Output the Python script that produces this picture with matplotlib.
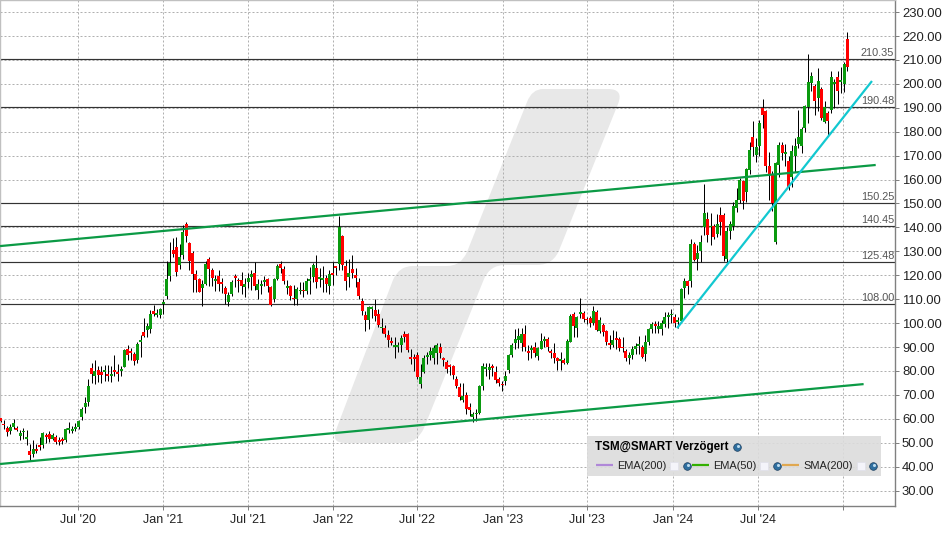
import matplotlib
matplotlib.use('Agg')
import matplotlib.pyplot as plt
import matplotlib.dates as mdates
import numpy as np
import pandas as pd
from matplotlib.patches import PathPatch, Rectangle
from matplotlib.path import Path
from matplotlib.transforms import Affine2D

plt.rcParams['font.family'] = ['Liberation Sans', 'DejaVu Sans']

# weekly candles
first_week = '2020-01-17'
opens = [
    60.2, 58, 56, 54.7, 56.7, 56.2, 53, 54.3, 51.5, 46.5,
    45.1, 47.2, 48.9, 48.9, 53.2, 53.5, 51.7, 52.5, 51.1, 51.4,
    51, 55.3, 54.8, 55.8, 56.5, 60.7, 65, 66.9, 81.4, 78,
    80.6, 79.7, 79.7, 78.9, 78, 80.6, 79.7, 80, 81.8, 89,
    88.3, 87, 84.6, 92.1, 96.2, 97.1, 97.6, 105, 103.4, 103.4,
    107.9, 111.2, 119.7, 130.5, 131.8, 124.2, 128.4, 141.3, 133.5, 129.3,
    120.7, 118.3, 114.7, 116.2, 126.7, 122.1, 117.5, 119.7, 117.2, 114.7,
    108.9, 112, 119.7, 118.2, 118.2, 115, 117, 119.3, 120.8, 113.7,
    115.5, 117, 118.3, 115, 110, 118.6, 124.6, 122.5, 114.7, 115.4,
    110.7, 110, 113.4, 114, 113.3, 117.5, 119.2, 123.2, 118.3, 118,
    118.7, 115.5, 120.8, 123.8, 124.9, 136.3, 123.7, 119.2, 122.7, 119.9,
    117.3, 109.2, 103.3, 101.4, 105.9, 105.6, 103.9, 97.8, 97.9, 95.1,
    92.6, 90, 90.1, 90.9, 95.5, 95.3, 85.8, 85.8, 86.8, 74.6,
    79.6, 85.8, 86.5, 85.6, 87.7, 90.2, 85.4, 83.7, 82.3, 82.2,
    76.6, 73.4, 68, 69.9, 65, 60.7, 61.8, 62.5, 73.5, 81,
    80.5, 81.9, 79.7, 76.7, 74.6, 75.9, 80.2, 86.6, 91.6, 93,
    91.6, 95.5, 88.4, 88.9, 90.1, 86.3, 89.3, 92.6, 93.2, 88.4,
    87.6, 85.5, 84.3, 84.7, 83.4, 92.3, 103.9, 98, 103.9, 104.3,
    101.9, 102.2, 100, 104.7, 96.9, 99.3, 96.8, 91.5, 90.7, 93.9,
    93.3, 90.1, 88.3, 85.6, 86.8, 89, 90.5, 90.1, 87.2, 91.9,
    97.5, 99.7, 97.5, 97.5, 99.7, 102.5, 103.2, 102.4, 100.6, 100.7,
    114.8, 117.4, 117.4, 133.2, 126.9, 130, 140, 143.6, 140, 140.4,
    137.3, 145.3, 145.3, 126.9, 138.3, 140.7, 148.1, 151.6, 159.5, 155,
    164, 177.7, 170.3, 174, 190, 188.7, 165.8, 162.3, 134, 166.1,
    174.5, 170.6, 167.8, 161, 169.9, 174.9, 174, 181.4, 190.2, 200.5,
    199.1, 194, 197.9, 184.2, 187.7, 189.1, 200, 202.8, 200.8, 200, 218.6,
]
closes = [
    59, 57.2, 54.5, 56.4, 58.3, 55.5, 53.9, 55.1, 52.2, 44.7,
    47.2, 46.5, 48, 53.9, 52.5, 51.4, 53.1, 50.3, 50.3, 50.7,
    55.6, 56, 55.6, 56.5, 58.9, 63.9, 66.4, 73.9, 78.9, 80.1,
    78.5, 78.5, 80.6, 78, 78.9, 79.7, 78.9, 81, 88.8, 86.7,
    87.6, 84, 91.3, 93, 94.8, 98.8, 103.8, 104, 104.1, 105.9,
    109, 118.3, 125.2, 128.8, 121.3, 127.7, 138, 136.3, 125.9, 120.4,
    117.9, 113, 116.2, 124.6, 122.5, 118.7, 118.5, 116.5, 116.4, 112,
    111.6, 117.2, 118.7, 117.5, 115.4, 116.2, 118.7, 120.4, 115.4, 116.5,
    116.2, 118, 115.4, 107.5, 118.3, 123.9, 122.9, 117.4, 115.4, 111.2,
    110, 114.4, 114, 113.3, 117.5, 118.3, 124.2, 117, 119.2, 118.9,
    116.2, 120.4, 120, 122.9, 140.2, 124.2, 117.8, 120.9, 121, 119,
    111.4, 105.2, 101.4, 106.7, 106.8, 102.8, 99.2, 98.5, 95.5, 93,
    91.8, 90.9, 91, 93.9, 94.1, 88.9, 85.2, 85.2, 77.3, 77.4,
    85.6, 86.5, 88.4, 89.7, 91, 87.5, 84.7, 81, 81.5, 78.1,
    73.9, 69.1, 69.6, 64, 63.8, 62.1, 62.5, 73.8, 82.2, 81.6,
    81.5, 81.2, 76.3, 75, 74, 78, 86.6, 91, 93.5, 94.7,
    95.5, 90.2, 87.6, 89.7, 87.6, 89.4, 92.6, 93.2, 90, 87.3,
    85.5, 84.3, 85.2, 83.4, 92.6, 103.1, 98.6, 102.6, 104.7, 101.8,
    101.1, 100.1, 105.2, 97.2, 101.1, 96.1, 92, 90.8, 93, 93,
    89.5, 89.5, 85.6, 86.8, 89.3, 90.5, 91.4, 85.9, 91.9, 97.5,
    99.7, 98.6, 98.6, 100.1, 102.6, 103.2, 103.9, 100, 101.3, 114.4,
    117.4, 115.7, 133.2, 126.5, 129.4, 133.9, 146.1, 136.9, 140.5, 136.2,
    141.5, 142.2, 127.9, 138.3, 141.5, 149, 151.6, 159.9, 151.1, 164.4,
    172.4, 173.8, 173.8, 183.5, 187, 165.8, 161.9, 150, 166.8, 174.5,
    171.3, 171.4, 157, 172.1, 174, 177.7, 181.2, 190.8, 200.7, 203.3,
    193, 201.2, 185.9, 190.2, 184.5, 202.8, 200.7, 197.2, 201.6, 208.3, 207.2,
]
highs = [
    60.5, 59.7, 57, 58, 59.8, 57, 55.5, 56.2, 55.5, 49.5,
    51, 49.5, 52.5, 54.5, 54, 55, 54, 53.2, 52.5, 52.5,
    56, 58.5, 57, 58.2, 59.5, 65, 68.9, 76.7, 83.2, 84.5,
    82, 82, 82.5, 82.5, 82, 86.8, 83, 82, 89, 91,
    89.5, 88, 92, 95, 102, 100, 105.5, 107.6, 106, 106.5,
    110, 126, 133.9, 135.6, 136, 133, 141, 142.3, 134, 130,
    122, 119, 118, 126, 127.5, 123, 120, 122, 119, 115.5,
    113, 118, 120.5, 119, 121.5, 119, 121, 122, 125.5, 118.5,
    118, 119.5, 119, 115.5, 119, 124.5, 126, 124, 118, 116,
    116, 115, 117, 117, 119, 123.5, 125, 128.5, 123, 124,
    120, 122, 125.5, 124, 144.8, 137, 126.3, 127, 128.5, 123,
    119, 110.5, 105, 107, 107, 110, 106, 102, 99, 97,
    94, 94, 92, 95, 96.5, 96, 89, 87, 88, 83,
    86.5, 88, 90, 91, 91.5, 91.5, 86, 84.5, 83, 82.5,
    78, 75, 75, 71, 66.5, 63, 64, 74, 83.5, 83.5,
    83.5, 83, 82, 77.5, 76, 80, 87, 91.5, 97.5, 98,
    98, 99, 91, 91, 92, 90, 96, 94.5, 94, 89,
    91.5, 86, 88, 85.5, 93.5, 104, 104.5, 103, 110.3, 105,
    102.5, 103, 107, 105.5, 102.5, 100, 97, 95, 97, 96.5,
    94, 94, 89, 88, 90.5, 91.5, 94.5, 91, 95, 98,
    100.5, 101, 101, 101.5, 104.5, 104.5, 106, 104, 102.5, 114.5,
    119, 118, 135, 134, 132.5, 137, 158.3, 146.5, 146, 141.5,
    145.7, 148.5, 146, 140, 142.5, 150.5, 156.5, 160.5, 160, 165,
    175.6, 184.5, 177.5, 185, 193.5, 189, 171.7, 163.5, 167.5, 175.5,
    175.5, 175, 170, 174.5, 177.5, 189, 182, 191, 212.5, 205,
    200, 206.5, 198.5, 193, 188.5, 205.5, 202, 205.5, 207, 209, 221.8,
]
lows = [
    58.5, 55.6, 53, 53.5, 55.8, 54.8, 51, 51.5, 49, 42.5,
    44, 45.5, 47, 47.8, 50, 50.5, 51, 49.5, 49, 49.5,
    50.2, 54, 54, 54.8, 55.8, 59.5, 62.5, 65.5, 75, 74.5,
    75.5, 75, 76, 75.8, 75.5, 78, 76, 78, 81.5, 84.5,
    84.5, 82.5, 83.5, 86, 94.2, 94, 96, 103, 102.5, 102,
    104, 110, 117.6, 127.7, 119.5, 122.5, 127, 134, 122, 113,
    113, 113, 107, 116, 115.7, 115.5, 113.5, 113.5, 112.5, 108,
    107, 111.5, 115, 113, 112, 111, 114.5, 114, 114, 110,
    112, 115.5, 113, 107, 109, 118, 121, 116.5, 112, 109.5,
    107.5, 107.5, 112, 111, 112, 112, 117, 114.5, 115, 113,
    113, 112, 116, 120, 122, 122, 113.7, 115, 119, 115,
    110, 103.5, 96.5, 97.5, 102, 101, 98.5, 96, 94, 90,
    91, 85.5, 88, 88, 92, 88, 83, 80, 76.5, 73,
    79, 83, 84.5, 83, 83, 85.5, 82, 79, 78.5, 76.5,
    73, 68, 67, 62, 61, 58.5, 59, 62, 72, 78,
    76.5, 78, 75, 73.5, 71.5, 74, 79, 86, 89, 89.5,
    88.5, 88.5, 84.5, 85.5, 86, 84.5, 89, 90, 88.5, 85.5,
    83.5, 80.5, 80.5, 83, 83, 92, 94, 94, 102, 100.5,
    99.5, 98.5, 99, 96.5, 96, 94.5, 91, 89, 90, 89,
    88.5, 88, 84, 83, 85, 87, 87, 85.5, 84, 91,
    96, 96, 96, 95, 98.5, 98, 100, 98.5, 98, 100,
    110.5, 112.3, 115, 126, 122, 125.5, 136.9, 134, 132.7, 135,
    136, 137, 126, 125, 135, 139, 146.5, 150, 147.5, 150.8,
    162.5, 170, 167.5, 170, 181.5, 163, 151.5, 147, 133.2, 161,
    168, 165.5, 155.5, 157, 163, 173, 171, 180, 183.5, 197,
    187, 188.5, 185, 183.5, 178.5, 188, 190, 191.5, 196, 196.5, 205.5,
]

# horizontal levels and drawn trend lines
levels = [210.35, 190.48, 150.25, 140.45, 125.48, 108.00]
upper_dates = ['2020-01-16', '2025-03-12']
upper_values = [132.2, 166.1]
lower_dates = ['2020-01-16', '2025-02-14']
lower_values = [41.1, 74.5]
cyan_dates = ['2024-01-10', '2025-03-04']
cyan_values = [97.9, 201.2]

tick_dates = ['2020-07-01', '2021-01-01', '2021-07-01', '2022-01-01', '2022-07-01',
              '2023-01-01', '2023-07-01', '2024-01-01', '2024-07-01', '2025-01-01']
tick_labels = ["Jul '20", "Jan '21", "Jul '21", "Jan '22", "Jul '22",
               "Jan '23", "Jul '23", "Jan '24", "Jul '24", ""]
y_ticks = list(range(30, 240, 10))

legend_title = 'TSM@SMART Verzögert'
legend_names = ['EMA(200)', 'EMA(50)', 'SMA(200)']
legend_colors = ['#b088d8', '#33b000', '#e0a850']

GREEN = '#0a9a0f'
RED = '#ff0000'

W, H = 948, 534
fig = plt.figure(figsize=(W / 100, H / 100), dpi=100, facecolor='white')
ax = fig.add_axes([0, (H - 506) / H, 895 / W, 506 / H])

# pixel coordinates of the picture, y going down
pix = Affine2D().scale(1, -1).translate(0, H)

weeks = pd.date_range(first_week, periods=len(opens), freq='7D')
x = mdates.date2num(weeks)
px_week = 3.257
day = 1 / (px_week / 7)

ax.set_xlim(x[0] - 0.5 * day, x[0] + 894.5 * day)
ax.set_ylim(23.54, 235.07)

# watermark
verts = [
    (543, 89), (608, 89), (624, 89), (618, 104), (560, 248), (554, 265), (537, 265),
    (505, 265), (490, 265), (484, 279), (424, 428), (417, 443), (405, 443),
    (345, 443), (331, 443), (336, 430), (393, 280), (399, 266), (413, 266),
    (447, 266), (461, 266), (467, 252), (527, 102), (532, 89), (543, 89),
]
codes = [Path.MOVETO, Path.LINETO, Path.CURVE3, Path.CURVE3, Path.LINETO, Path.CURVE3, Path.CURVE3,
         Path.LINETO, Path.CURVE3, Path.CURVE3, Path.LINETO, Path.CURVE3, Path.CURVE3,
         Path.LINETO, Path.CURVE3, Path.CURVE3, Path.LINETO, Path.CURVE3, Path.CURVE3,
         Path.LINETO, Path.CURVE3, Path.CURVE3, Path.LINETO, Path.CURVE3, Path.CURVE3]
ax.add_patch(PathPatch(Path(verts, codes), transform=pix, fc='#e8e8e8', ec='none', zorder=0))

# grid
ax.set_xticks(mdates.date2num(pd.to_datetime(tick_dates)))
ax.set_xticklabels(tick_labels, fontsize=9, color='#222222')
ax.set_yticks(y_ticks)
ax.set_yticklabels(['%.2f' % v for v in y_ticks], fontsize=9.4, color='#222222')
ax.yaxis.tick_right()
ax.tick_params(axis='both', length=3, width=0.72, color='#808080')
ax.tick_params(axis='x', pad=3)
ax.tick_params(axis='y', pad=2)
ax.grid(True, color='#b0b0b0', lw=0.72, ls=(0, (2, 2)), zorder=1)
ax.set_axisbelow(True)

for side, col in [('top', '#c0c0c0'), ('left', '#c0c0c0'), ('right', '#808080'), ('bottom', '#808080')]:
    ax.spines[side].set_color(col)
    ax.spines[side].set_linewidth(1.0)

# price levels
ax.hlines(levels, ax.get_xlim()[0], ax.get_xlim()[1], color='#333333', lw=0.85, zorder=2)
for lv in levels:
    ax.annotate('%.2f' % lv, (1, lv), xycoords=('axes fraction', 'data'), xytext=(-0.5, 0.8),
                textcoords='offset points', ha='right', va='bottom', fontsize=7.8,
                color='#555555', zorder=2)

# candles
opens_a, closes_a = np.array(opens), np.array(closes)
colors = np.where(closes_a >= opens_a, GREEN, RED)
wicks = ax.vlines(x, lows, highs, color='black', lw=0.72, zorder=3)
wicks.set_snap(True)
ax.bar(x, np.maximum(np.abs(closes_a - opens_a), 0.5), bottom=np.minimum(opens_a, closes_a),
       width=3 * day, color=colors, lw=0, zorder=4)

# trend lines
for d, v, c in [(upper_dates, upper_values, '#0b9a45'), (lower_dates, lower_values, '#0b9a45'),
                (cyan_dates, cyan_values, '#12c8d0')]:
    ax.plot(mdates.date2num(pd.to_datetime(d)), v, color=c, lw=1.6, zorder=5,
            solid_capstyle='butt')

# legend box
ax.add_patch(Rectangle((587, 436), 294, 40, transform=pix, fc='#dcdcdc', ec='none', alpha=0.9, zorder=6))
ax.text(595, 447, legend_title, transform=pix, fontsize=8.4, fontweight='bold', color='black',
        va='center', ha='left', zorder=7)


def globe(px, py):
    ax.plot([px], [py], 'o', transform=pix, ms=5.5, mfc='#2f6f9f', mec='#1f3f5f', mew=0.5, zorder=7)
    ax.plot([px + 1], [py - 1], 'o', transform=pix, ms=2.2, mfc='#bcdcf0', mec='none', zorder=8)


globe(737, 447)
line_x = [596, 692, 782]
line_w = [17, 17, 17]
text_x = [617, 713, 803]
box_x = [674, 764, 861]
globe_x = [687, 777, 873]
for i, name in enumerate(legend_names):
    ax.plot([line_x[i], line_x[i] + line_w[i]], [465, 465], transform=pix, color=legend_colors[i],
            lw=1.6, zorder=7, solid_capstyle='butt')
    ax.text(text_x[i], 466, name, transform=pix, fontsize=7.9, color='#222222', va='center',
            ha='left', zorder=7)
    ax.plot([box_x[i]], [466], 's', transform=pix, ms=6, mfc='#f4f4fa', mec='#e0e0ea', mew=0.5, zorder=7)
    globe(globe_x[i], 466)

fig.savefig('out.png', dpi=100)
